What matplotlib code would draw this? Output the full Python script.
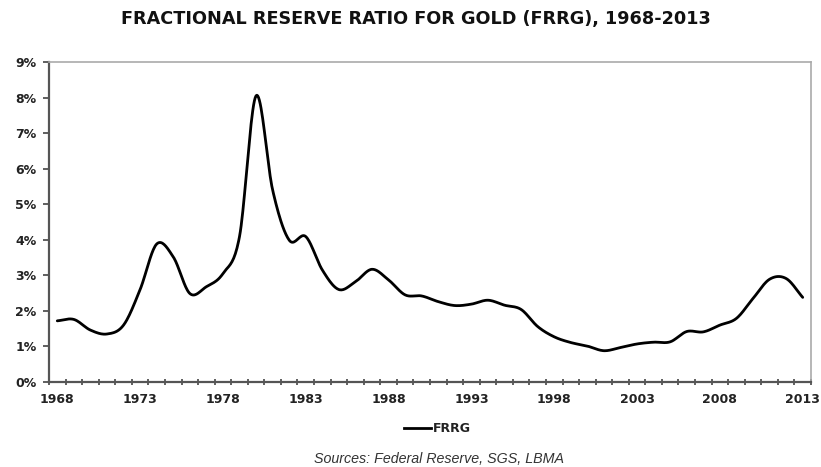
import numpy as np
import matplotlib
matplotlib.use("Agg")
import matplotlib.pyplot as plt
from matplotlib.ticker import FixedLocator, FuncFormatter
from matplotlib.lines import Line2D

years = list(range(1968, 2014))
frrg = [1.72, 1.76, 1.46, 1.35, 1.60, 2.60, 3.88, 3.52, 2.49, 2.68,
        3.05, 4.09, 8.05, 5.40, 3.99, 4.09, 3.15, 2.60, 2.82, 3.17,
        2.87, 2.45, 2.42, 2.26, 2.15, 2.19, 2.30, 2.16, 2.04, 1.56,
        1.27, 1.11, 1.01, 0.88, 0.97, 1.07, 1.12, 1.13, 1.42, 1.41,
        1.60, 1.79, 2.35, 2.89, 2.91, 2.38]
year_labels = [str(y) for y in range(1968, 2014, 5)]
pct_ticks = list(range(0, 10))


def smooth(x, y, n=20):
    """Catmull-Rom curve through every point (a 'smoothed line' look)."""
    x = np.asarray(x, float)
    y = np.asarray(y, float)
    px = np.concatenate([[2 * x[0] - x[1]], x, [2 * x[-1] - x[-2]]])
    py = np.concatenate([[2 * y[0] - y[1]], y, [2 * y[-1] - y[-2]]])
    xs, ys = [], []
    t = np.linspace(0, 1, n, endpoint=False)
    for i in range(1, len(px) - 2):
        for p, out in ((px, xs), (py, ys)):
            p0, p1, p2, p3 = p[i - 1], p[i], p[i + 1], p[i + 2]
            out.extend(0.5 * ((2 * p1) + (-p0 + p2) * t
                              + (2 * p0 - 5 * p1 + 4 * p2 - p3) * t ** 2
                              + (-p0 + 3 * p1 - 3 * p2 + p3) * t ** 3))
    xs.append(x[-1])
    ys.append(y[-1])
    return np.array(xs), np.array(ys)


fig = plt.figure(figsize=(8.21, 4.67), dpi=100)
ax = fig.add_axes([49 / 821, 85 / 467, 762 / 821, 320 / 467])

sx, sy = smooth(years, frrg)
ax.plot(sx, sy, color="black", lw=2.0, solid_capstyle="round")

ax.set_xlim(years[0] - 0.5, years[-1] + 0.5)
ax.set_ylim(0, 9)

ax.yaxis.set_major_locator(FixedLocator(pct_ticks))
ax.yaxis.set_major_formatter(FuncFormatter(lambda v, _: f"{int(v)}%"))
ax.xaxis.set_major_locator(FixedLocator([int(s) for s in year_labels]))
ax.set_xticklabels(year_labels)
ax.xaxis.set_minor_locator(FixedLocator(np.arange(years[0] - 0.5, years[-1] + 0.6, 1.0)))

ax.tick_params(axis="x", which="major", length=0, pad=8, colors="#222222")
ax.tick_params(axis="x", which="minor", direction="inout", length=4.5, width=1.2, color="#444444")
ax.tick_params(axis="y", which="major", direction="out", length=4, width=1.2, color="#444444",
               pad=5, labelcolor="#222222")
for lab in ax.get_xticklabels() + ax.get_yticklabels():
    lab.set_fontweight("bold")
    lab.set_fontsize(9)
    lab.set_family("DejaVu Sans")

for side in ("left", "bottom"):
    ax.spines[side].set_color("#555555")
    ax.spines[side].set_linewidth(1.6)
for side in ("top", "right"):
    ax.spines[side].set_color("#aaaaaa")
    ax.spines[side].set_linewidth(1.2)

fig.text(416 / 821, 1 - 19 / 467, "FRACTIONAL RESERVE RATIO FOR GOLD (FRRG), 1968-2013",
         ha="center", va="center", fontsize=12.7, fontweight="bold", family="DejaVu Sans",
         color="#111111")

leg = fig.legend(handles=[Line2D([], [], color="black", lw=2.0)], labels=["FRRG"],
                 loc="center", bbox_to_anchor=(437 / 821, 1 - 429 / 467),
                 frameon=False, handlelength=2.2, handletextpad=0.1,
                 prop={"weight": "bold", "size": 9, "family": "DejaVu Sans"})
for t in leg.get_texts():
    t.set_color("#222222")

fig.text(439 / 821, 1 - 459 / 467, "Sources: Federal Reserve, SGS, LBMA",
         ha="center", va="center", fontsize=10.3, style="italic", family="Liberation Sans",
         color="#333333")

fig.savefig("out.png", dpi=100)
